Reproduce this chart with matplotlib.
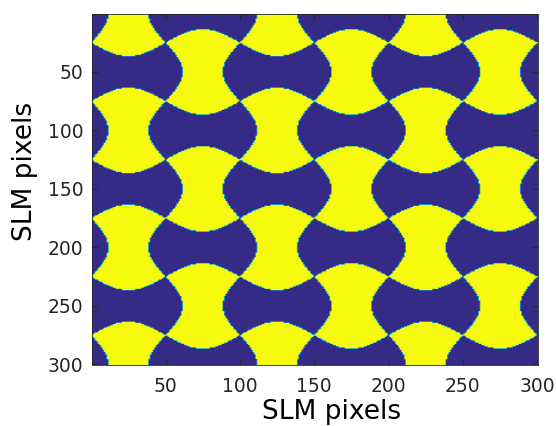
#!/usr/bin/env python3
import numpy as np
import matplotlib
matplotlib.use("Agg")
from matplotlib import pyplot as plt
from matplotlib.colors import LinearSegmentedColormap

# SLM phase mask: checkerboard of 50 px tiles, every tile edge bent into a half-wave
n_pix = 300
cell = 50        # tile pitch, SLM pixels
row_shift = 25   # tile rows start at y = 25
bulge = 11.5     # how far the middle of each tile edge is pushed
x_ticks = [50, 100, 150, 200, 250, 300]
y_ticks = [50, 100, 150, 200, 250, 300]

# parula ends, with a teal middle for the soft edges
parula = [(0.2081, 0.1663, 0.5292), (0.0779, 0.5040, 0.8384), (0.1000, 0.7000, 0.7400),
          (0.5500, 0.8300, 0.3000), (0.9763, 0.9831, 0.0538)]


def edge(u):
    # offset of a tile edge from the straight grid line, u = offset from the edge middle
    return bulge * np.cos(np.pi * u / cell)


def main():
    x, y = np.meshgrid(np.arange(1, n_pix + 1), np.arange(1, n_pix + 1))
    i = np.floor(x / cell)
    j = np.floor((y - row_shift) / cell)
    yellow = (i + j) % 2 == 1
    u = x - (i * cell + cell / 2)
    v = y - (j * cell + row_shift + cell / 2)
    d_h = cell / 2 - np.abs(v)   # distance to nearest top/bottom edge
    d_v = cell / 2 - np.abs(u)   # distance to nearest left/right edge
    # yellow tiles: top/bottom pushed out, sides pushed in
    mask = np.where(yellow, d_v >= edge(v), d_h < edge(u)).astype(float)

    fig = plt.figure(figsize=(5.56, 4.26), dpi=100)
    ax = fig.add_axes([92 / 556, 1 - 365 / 426, 446 / 556, 351 / 426])
    cmap = LinearSegmentedColormap.from_list("parula", parula)
    ax.imshow(mask, cmap=cmap, vmin=0, vmax=1, aspect='auto',
              extent=(0.5, n_pix + 0.5, n_pix + 0.5, 0.5),
              interpolation='bilinear', interpolation_stage='data')

    ax.set_xticks(x_ticks)
    ax.set_yticks(y_ticks)
    ax.tick_params(axis='both', direction='in', top=True, right=True, length=4,
                   width=0.6, colors='#262626', labelsize=13.5)
    ax.tick_params(axis='x', pad=9)
    ax.tick_params(axis='y', pad=6)
    for s in ax.spines.values():
        s.set_color('#262626')
        s.set_linewidth(0.6)

    ax.set_xlabel('SLM pixels', fontsize=19, va='baseline')
    ax.set_ylabel('SLM pixels', fontsize=19, va='baseline')
    ax.xaxis.set_label_coords(0.538, -0.154)
    ax.yaxis.set_label_coords(-0.134, 0.551)

    fig.savefig("out.png", dpi=100)


if __name__ == '__main__':
    main()
